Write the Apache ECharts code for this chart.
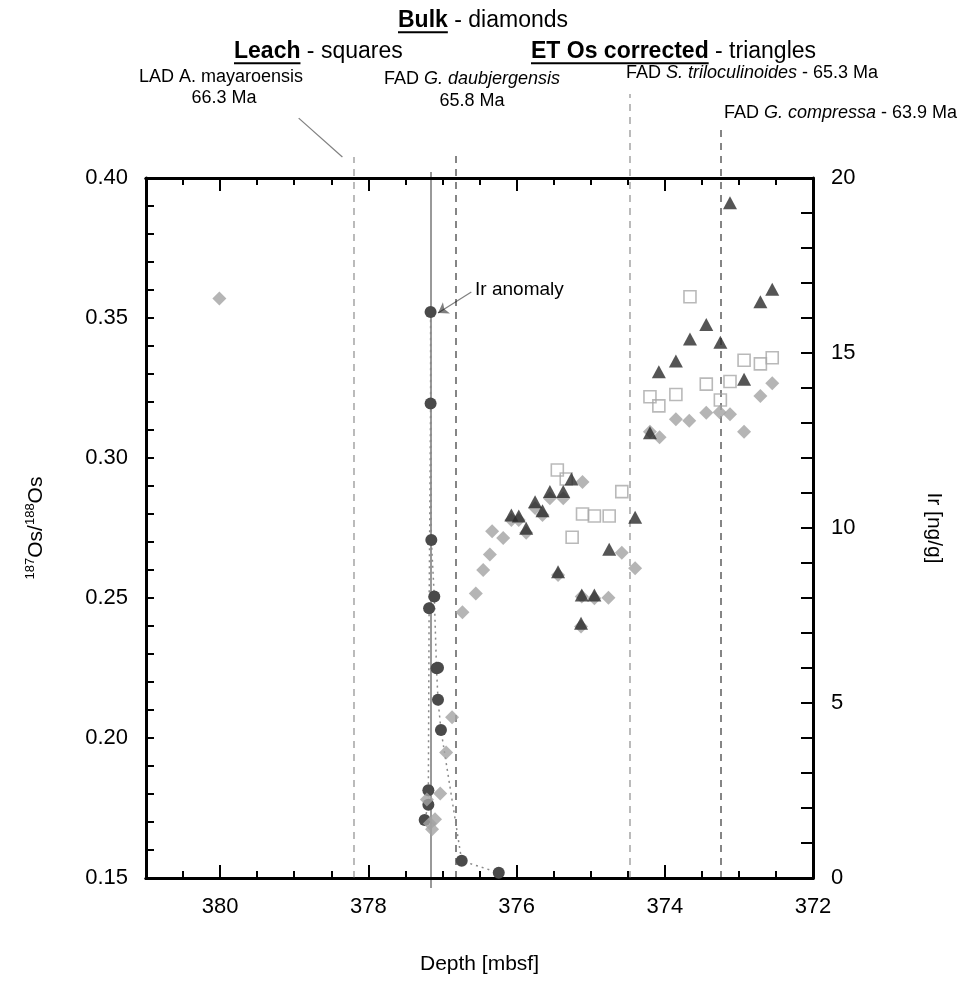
<!DOCTYPE html>
<html>
<head>
<meta charset="utf-8">
<script src="https://cdn.jsdelivr.net/npm/echarts@6.0.0/dist/echarts.min.js"></script>
<style>
html,body{margin:0;padding:0;background:#fff;}
#chart{width:977px;height:981px;}
</style>
</head>
<body>
<div id="chart"></div>
<script>
// ================= DATA =================
// Bulk 187Os/188Os (diamonds)
const bulkDepth = [380.01, 377.21, 377.10, 377.17, 377.14, 377.03, 376.95, 376.87, 376.73, 376.55,
  376.45, 376.36, 376.33, 376.18, 376.07, 375.97, 375.87, 375.75, 375.65, 375.55,
  375.44, 375.37, 375.11, 375.13, 375.12, 374.95, 374.76, 374.58, 374.40, 374.20,
  374.07, 373.85, 373.67, 373.44, 373.26, 373.12, 372.93, 372.71, 372.55];
const bulkOs = [0.357, 0.178, 0.171, 0.1695, 0.1674, 0.1802, 0.1948, 0.2074, 0.2449, 0.2516,
  0.2600, 0.2655, 0.2738, 0.2714, 0.2779, 0.2779, 0.2733, 0.2821, 0.2796, 0.2856,
  0.2582, 0.2856, 0.2914, 0.2398, 0.2505, 0.2499, 0.2501, 0.2662, 0.2606, 0.3094,
  0.3074, 0.3138, 0.3133, 0.3162, 0.3163, 0.3156, 0.3094, 0.3221, 0.3267];
// Leach 187Os/188Os (squares)
const leachDepth = [375.45, 375.33, 375.25, 375.11, 374.95, 374.75, 374.58, 374.20, 374.08, 373.85,
  373.66, 373.44, 373.25, 373.12, 372.93, 372.71, 372.55];
const leachOs = [0.2957, 0.2925, 0.2717, 0.2800, 0.2793, 0.2793, 0.2880, 0.3219, 0.3186, 0.3227,
  0.3576, 0.3264, 0.3207, 0.3273, 0.3349, 0.3336, 0.3358];
// ET Os corrected (triangles)
const etDepth = [376.07, 375.97, 375.87, 375.75, 375.65, 375.55, 375.37, 375.26, 375.44, 375.12,
  374.95, 375.13, 374.75, 374.40, 374.20, 374.08, 373.85, 373.66, 373.44, 373.25,
  373.12, 372.93, 372.71, 372.55];
const etOs = [0.2796, 0.2793, 0.2749, 0.2844, 0.2812, 0.2880, 0.2880, 0.2925, 0.2594, 0.2511,
  0.2511, 0.2410, 0.2674, 0.2788, 0.3090, 0.3308, 0.3346, 0.3425, 0.3477, 0.3413,
  0.3912, 0.3281, 0.3558, 0.3603];
// Ir [ng/g] (circles, dotted line)
const irDepth = [377.24, 377.19, 377.19, 377.18, 377.16, 377.16, 377.15, 377.11, 377.08, 377.06,
  377.06, 377.02, 376.74, 376.24];
const irVal = [1.66, 2.09, 2.51, 7.71, 13.56, 16.17, 9.66, 8.04, 5.99, 6.01,
  5.09, 4.23, 0.49, 0.15];
// Biostratigraphic datums (depth, mbsf)
const datumNames = ['LAD A. mayaroensis', 'FAD G. daubjergensis', 'FAD S. triloculinoides', 'FAD G. compressa'];
const datumAges = ['66.3 Ma', '65.8 Ma', '65.3 Ma', '63.9 Ma'];
const datumDepth = [378.20, 376.82, 374.47, 373.24];
const irAnomalyDepth = 377.16;
// Axis ticks
const depthTickLabels = [380, 378, 376, 374, 372];
const osTickLabels = ['0.15', '0.20', '0.25', '0.30', '0.35', '0.40'];
const irTickLabels = [0, 5, 10, 15, 20];

// ================= LAYOUT / STYLE =================
const FONT = '"Liberation Sans", Arial, Helvetica, sans-serif';
const GL = 146, GT = 178, GW = 667, GH = 700, CW = 977, CH = 981;
const D_MIN = 372, D_MAX = 381, OS_MIN = 0.15, OS_MAX = 0.40, IR_MIN = 0, IR_MAX = 20;
const osPerPx = (OS_MAX - OS_MIN) / GH;
const EXT_MAX = OS_MAX + GT * osPerPx;
const EXT_MIN = OS_MIN - (CH - GT - GH) * osPerPx;
// vertical extent (in Os units on the extended axis) of the datum lines
const datumTop = [0.4075, 0.4082, 0.4300, 0.4179];
const datumColor = ['#555555', '#000000', '#555555', '#000000'];
const datumWidth = [1.6, 1.9, 1.6, 1.9];
const anomalyLine = [0.1464, 0.4021];

const TICK_FS = 22, NAME_FS = 21, ANNOT_FS = 18, TITLE_FS = 23;

const chart = echarts.init(document.getElementById('chart'), null, {renderer: 'canvas'});

function xAx(position, interval, len, showLabel, extra) {
  return Object.assign({
    type: 'value', gridIndex: 0, position: position, min: D_MIN, max: D_MAX, inverse: true,
    interval: interval,
    axisLine: {show: true, onZero: false, lineStyle: {color: '#000', width: 3}},
    axisTick: {show: true, inside: true, length: len, lineStyle: {color: '#000', width: 2}},
    axisLabel: {show: showLabel, margin: 18, color: '#000', fontSize: TICK_FS, fontFamily: FONT,
      formatter: v => depthTickLabels.indexOf(Math.round(v)) >= 0 && Math.abs(v - Math.round(v)) < 1e-6 ? String(Math.round(v)) : ''},
    splitLine: {show: false}
  }, extra || {});
}

const osSeries = (d, v) => d.map((x, i) => [x, v[i]]);

const option = {
  backgroundColor: '#fff',
  animation: false,
  grid: [
    {left: GL, top: GT, width: GW, height: GH, containLabel: false},
    {left: GL, top: 0, width: GW, height: CH, containLabel: false}
  ],
  xAxis: [
    xAx('bottom', 2, 13, true, {
      name: 'Depth [mbsf]', nameLocation: 'middle', nameGap: 76,
      nameTextStyle: {color: '#000', fontSize: NAME_FS, fontFamily: FONT}
    }),
    xAx('bottom', 0.5, 7, false),
    xAx('top', 2, 13, false),
    xAx('top', 0.5, 7, false),
    {type: 'value', gridIndex: 1, min: D_MIN, max: D_MAX, inverse: true, show: false}
  ],
  yAxis: [
    {
      type: 'value', gridIndex: 0, position: 'left', min: OS_MIN, max: OS_MAX, interval: 0.01,
      axisLine: {show: true, onZero: false, lineStyle: {color: '#000', width: 3}},
      axisTick: {show: true, inside: true, length: 8, lineStyle: {color: '#000', width: 2}},
      axisLabel: {margin: 18, color: '#000', fontSize: TICK_FS, fontFamily: FONT,
        formatter: v => { const s = v.toFixed(2); return osTickLabels.indexOf(s) >= 0 && Math.round(v * 100) % 5 === 0 ? s : ''; }},
      splitLine: {show: false},
      name: '{sup|187}{n|Os/}{sup|188}{n|Os}', nameLocation: 'middle', nameRotate: 90, nameGap: 98,
      nameTextStyle: {color: '#000', fontFamily: FONT, fontSize: NAME_FS,
        rich: {sup: {fontSize: 13, fontFamily: FONT, color: '#000', verticalAlign: 'top', lineHeight: 24},
               n: {fontSize: NAME_FS, fontFamily: FONT, color: '#000', lineHeight: 24}}}
    },
    {
      type: 'value', gridIndex: 0, position: 'right', min: IR_MIN, max: IR_MAX, interval: 1,
      axisLine: {show: true, onZero: false, lineStyle: {color: '#000', width: 3}},
      axisTick: {show: true, inside: true, length: 12, lineStyle: {color: '#000', width: 2}},
      axisLabel: {margin: 18, color: '#000', fontSize: TICK_FS, fontFamily: FONT,
        formatter: v => irTickLabels.indexOf(v) >= 0 ? String(v) : ''},
      splitLine: {show: false},
      name: 'Ir [ng/g]', nameLocation: 'middle', nameRotate: -90, nameGap: 110,
      nameTextStyle: {color: '#000', fontFamily: FONT, fontSize: NAME_FS}
    },
    {type: 'value', gridIndex: 1, min: EXT_MIN, max: EXT_MAX, show: false}
  ],
  series: [
    {
      type: 'lines', coordinateSystem: 'cartesian2d', xAxisIndex: 4, yAxisIndex: 2, silent: true, z: 1,
      data: datumDepth.map((d, i) => ({
        coords: [[d, OS_MIN], [d, datumTop[i]]],
        lineStyle: {color: datumColor[i], width: datumWidth[i], type: [7, 6]}
      })),
      lineStyle: {width: 1.6}
    },
    {
      type: 'lines', coordinateSystem: 'cartesian2d', xAxisIndex: 4, yAxisIndex: 2, silent: true, z: 1,
      data: [{coords: [[irAnomalyDepth, anomalyLine[0]], [irAnomalyDepth, anomalyLine[1]]]}],
      lineStyle: {color: '#000', width: 1.6, type: 'solid'}
    },
    {
      type: 'lines', coordinateSystem: 'cartesian2d', xAxisIndex: 4, yAxisIndex: 2, silent: true, z: 1,
      data: [{coords: [[378.94, 0.4214], [378.35, 0.4075]]}],
      lineStyle: {color: '#000', width: 1.2, type: 'solid'}
    },
    {
      name: 'Ir', type: 'line', xAxisIndex: 0, yAxisIndex: 1, z: 3,
      data: osSeries(irDepth, irVal),
      symbol: 'circle', symbolSize: 12, showSymbol: true, showAllSymbol: true,
      lineStyle: {color: '#8a8a8a', width: 1.5, type: [2, 4]},
      itemStyle: {color: '#4a4a4a'}
    },
    {
      name: 'Leach', type: 'scatter', xAxisIndex: 0, yAxisIndex: 0, z: 4,
      data: osSeries(leachDepth, leachOs),
      symbol: 'rect', symbolSize: 12,
      itemStyle: {color: 'rgba(255,255,255,0)', borderColor: '#a8a8a8', borderWidth: 1.6}
    },
    {
      name: 'Bulk', type: 'scatter', xAxisIndex: 0, yAxisIndex: 0, z: 5,
      data: osSeries(bulkDepth, bulkOs),
      symbol: 'diamond', symbolSize: 14,
      itemStyle: {color: '#a2a2a2'}
    },
    {
      name: 'ET Os corrected', type: 'scatter', xAxisIndex: 0, yAxisIndex: 0, z: 6,
      data: osSeries(etDepth, etOs),
      symbol: 'triangle', symbolSize: [14, 13],
      itemStyle: {color: '#2b2b2b'}
    },
    {
      type: 'lines', coordinateSystem: 'cartesian2d', xAxisIndex: 0, yAxisIndex: 1, silent: true, z: 7,
      symbol: ['none', 'arrow'], symbolSize: 10,
      data: [{coords: [[376.61, 16.74], [377.06, 16.14]]}],
      lineStyle: {color: '#000', width: 1.2}
    }
  ]
};
chart.setOption(option);

// ================= TEXT (titles & annotations) =================
const mctx = document.createElement('canvas').getContext('2d');
function tw(text, size, bold, italic) {
  mctx.font = (italic ? 'italic ' : '') + (bold ? 'bold ' : '') + size + 'px ' + FONT;
  return mctx.measureText(text).width;
}
const graphics = [];
function pushText(str, x, y, size, bold, italic) {
  graphics.push({type: 'text', x: x, y: y, silent: true,
    style: {text: str, font: (italic ? 'italic ' : '') + (bold ? 'bold ' : '') + size + 'px ' + FONT, fill: '#000',
      textAlign: 'left', textVerticalAlign: 'middle', align: 'left', verticalAlign: 'middle'}});
}
// parts: [{t, b (bold), u (underline), it (italic)}]
function runWidth(parts, size) { return parts.reduce((s, p) => s + tw(p.t, size, p.b, p.it), 0); }
function run(parts, x, y, size, align) {
  const total = runWidth(parts, size);
  let cx = align === 'center' ? x - total / 2 : x;
  parts.forEach(p => {
    const w = tw(p.t, size, p.b, p.it);
    pushText(p.t, cx, y, size, p.b, p.it);
    if (p.u) graphics.push({type: 'rect', silent: true, shape: {x: cx, y: y + size * 0.45, width: w, height: 2}, style: {fill: '#000'}});
    cx += w;
  });
}

// Title
run([{t: 'Bulk', b: 1, u: 1}, {t: ' - diamonds'}], 483, 21, TITLE_FS, 'center');
run([{t: 'Leach', b: 1, u: 1}, {t: ' - squares'}], 234, 52, TITLE_FS, 'left');
run([{t: 'ET Os corrected', b: 1, u: 1}, {t: ' - triangles'}], 531, 52, TITLE_FS, 'left');

// Datum annotations
run([{t: datumNames[0]}], 221, 77, ANNOT_FS, 'center');
run([{t: datumAges[0]}], 224, 98, ANNOT_FS, 'center');
run([{t: 'FAD '}, {t: 'G. daubjergensis', it: 1}], 472, 79, ANNOT_FS, 'center');
run([{t: datumAges[1]}], 472, 101, ANNOT_FS, 'center');
run([{t: 'FAD '}, {t: 'S. triloculinoides', it: 1}, {t: ' - ' + datumAges[2]}], 626, 73, ANNOT_FS, 'left');
run([{t: 'FAD '}, {t: 'G. compressa', it: 1}, {t: ' - ' + datumAges[3]}], 724, 113, ANNOT_FS, 'left');

// Ir anomaly label (anchored through the axes)
const pIr = chart.convertToPixel({xAxisIndex: 0, yAxisIndex: 1}, [376.56, 16.8]);
pushText('Ir anomaly', pIr[0], pIr[1], 19, false, false);

chart.setOption({graphic: graphics});
</script>
</body>
</html>
